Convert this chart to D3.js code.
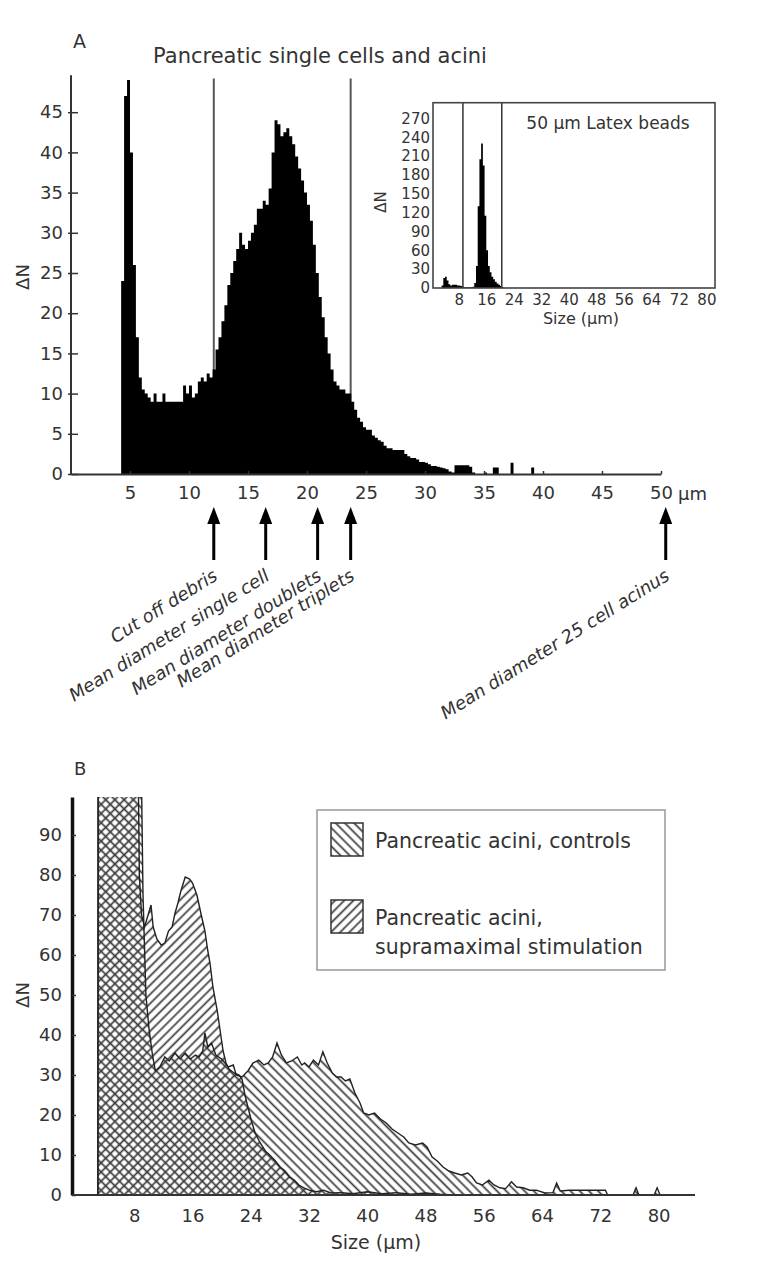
<!DOCTYPE html>
<html>
<head>
<meta charset="utf-8">
<script src="https://cdn.jsdelivr.net/npm/d3@7"></script>
<style>
body { margin: 0; background: #fff; }
svg text { font-family: "DejaVu Sans", sans-serif; fill: #333; }
</style>
</head>
<body>
<script>
"use strict";

// ---- panel A: size histogram, 0.25 um bins starting at 4.25 um
const binStartA = 4.25;
const binWidthA = 0.25;
const countsA = [
    24, 47, 49,
    40, 26, 17, 12,
    10.5, 10, 9.5, 9,
    10, 9, 9, 10,
    9, 9, 9, 9,
    9, 9, 11, 10,
    11, 9.5, 10, 11.5,
    12, 11.5, 12.5, 12,
    13, 15.5, 17, 19,
    21, 23.5, 25, 26.5,
    28, 30, 28.5, 28,
    29, 30, 31, 33,
    33, 34, 33.5, 35.5,
    40, 44, 43.5, 42,
    42.5, 43, 42, 41,
    39.5, 38, 36.5, 35,
    33.5, 31.5, 28.5, 25,
    22, 19.5, 17, 15,
    13, 11.5, 11, 10.5,
    10.5, 10, 10, 9,
    8, 7, 6.5, 5.8,
    5.5, 5.5, 4.8, 4.5,
    4.2, 4, 3.5, 3.2,
    3.2, 3, 3, 3,
    3, 2.5, 2.2, 2,
    2, 1.8, 1.5, 1.5,
    1.4, 1.2, 1, 1,
    0.9, 0.8, 0.7, 0.6,
    0.3, 0.2, 1.1, 1.1,
    1.1, 1.1, 1.1, 0.9,
    0.2, 0, 0, 0,
    0.2, 0, 0, 0.8,
    0.8, 0, 0, 0,
    0, 1.4, 0, 0,
    0, 0, 0, 0,
    0.8
];
const yTicksA = [0, 5, 10, 15, 20, 25, 30, 35, 40, 45];
const xTicksA = [5, 10, 15, 20, 25, 30, 35, 40, 45, 50];
const gateLinesA = [12.1, 23.7];
const arrowSizes = [12.1, 16.5, 20.9, 23.7, 50.4];
const arrowLabels = ["Cut off debris", "Mean diameter single cell", "Mean diameter doublets",
                     "Mean diameter triplets", "Mean diameter 25 cell acinus"];

// ---- inset: latex beads, 0.5 um bins starting at 3 um
const binStartI = 3;
const binWidthI = 0.5;
const countsI = [4, 16, 18, 12, 6, 4, 5, 5, 5, 4, 4, 3, 2, 1, 1, 1, 1, 1, 2, 8,
                 35, 130, 205, 230, 195, 115, 60, 35, 25, 18, 14, 10, 7, 5, 3, 1];
const yTicksI = [0, 30, 60, 90, 120, 150, 180, 210, 240, 270];
const xTicksI = [8, 16, 24, 32, 40, 48, 56, 64, 72, 80];
const gateLinesI = [9.2, 20.5];

// ---- panel B: controls vs supramaximal stimulation (values above 100 are off scale)
const ctrlSize = [3.0, 3.05, 8.8, 9.2, 9.6, 10.0, 10.5, 10.9, 11.5, 12.2, 12.8, 13.6, 14.3, 15.0, 15.7,
    16.4, 16.9, 17.4, 17.7, 18.1, 18.6, 19.2, 20.0, 20.9, 21.6, 22.0, 22.8, 23.6, 24.3, 25.1, 25.8,
    26.4, 27.0, 27.6, 28.2, 28.9, 29.6, 30.4, 31.0, 31.4, 32.0, 32.6, 33.3, 33.9, 34.5, 35.2, 35.8,
    36.4, 37.0, 37.6, 38.3, 39.0, 39.5, 40.2, 41.0, 41.8, 42.6, 43.4, 44.2, 45.0, 45.7, 46.6, 47.6,
    48.2, 48.9, 49.6, 50.4, 51.2, 52.0, 52.9, 53.8, 54.4, 55.0, 55.8, 56.7, 57.4, 58.2, 59.0, 59.8,
    60.5, 61.4, 62.3, 63.2, 64.4, 65.5, 66.0, 66.5, 67.7, 70.0, 72.7, 73.0, 76.5, 76.9, 77.3, 79.4,
    79.8, 80.2];
const ctrlCount = [0, 130, 130, 75, 50, 42, 35, 31, 32, 34.5, 33.5, 35.5, 34, 35.5, 34,
    35, 34.5, 36, 40.5, 37, 38, 35, 34, 32, 32.5, 30, 29.5, 31, 33, 33.7, 32.5,
    33, 34.5, 38, 35, 33, 33.5, 34.5, 32.5, 33, 32, 33.7, 32.5, 35.8, 33, 30.5, 29.5,
    29.5, 28.5, 29, 25.5, 23, 20.5, 20, 20.5, 19, 18, 16.5, 15.5, 14.5, 13, 12.5, 13,
    12, 9.5, 8.5, 7, 6, 5.5, 5, 5.5, 4.5, 3, 2.5, 3.7, 2.5, 1.8, 1.6, 3.3,
    2, 1.8, 1.2, 1.2, 0.5, 0.6, 3, 1, 1.2, 1.2, 1.2, 0, 0, 1.8, 0, 0,
    1.8, 0];
const stimSize = [3.0, 3.05, 8.4, 8.7, 9.0, 9.4, 9.9, 10.3, 10.6, 11.1, 11.7, 12.2, 12.7, 13.2, 13.6,
    14.0, 14.4, 15.0, 15.6, 16.0, 16.6, 17.2, 17.7, 18.1, 18.4, 18.8, 19.4, 19.8, 20.2, 20.6, 21.0,
    21.7, 22.4, 22.8, 23.2, 23.6, 24.1, 24.6, 25.3, 26.0, 26.6, 27.3, 28.0, 28.7, 29.3, 30.0, 30.6,
    31.3, 32.0, 33.0, 34.0, 35.0, 36.5, 38.0, 40.0, 42.0, 44.0, 46.0, 48.0, 50.0, 52.0];
const stimCount = [0, 130, 130, 80, 70, 67, 70, 72.5, 67, 64, 62.5, 63, 66, 67, 70.5,
    73, 76, 79.5, 79, 78, 75, 70, 66, 61, 58, 52, 46, 41, 36, 33, 31.5,
    30.5, 30, 29, 25, 22, 18.5, 15.5, 13, 11, 10, 8.7, 7, 6, 4.5, 3.7, 2.5,
    1.8, 1.2, 0.8, 1.2, 0.5, 0.6, 0.3, 0.8, 0.3, 0.6, 0.2, 0.5, 0.2, 0];
const yTicksB = [0, 10, 20, 30, 40, 50, 60, 70, 80, 90];
const xTicksB = [8, 16, 24, 32, 40, 48, 56, 64, 72, 80];
const legendLines = [["Pancreatic acini, controls"], ["Pancreatic acini,", "supramaximal stimulation"]];

window.addEventListener("load", init);

function histPoints(start, width, counts) {
    const pts = counts.map((c, i) => [start + i * width, c]);
    pts.push([start + counts.length * width, 0]);
    return pts;
}

function styleAxis(g, size) {
    g.selectAll(".domain").attr("stroke", "#333").attr("stroke-width", 2);
    g.selectAll(".tick line").attr("stroke", "#333").attr("stroke-width", 1.5);
    g.selectAll(".tick text").attr("font-size", size).attr("fill", "#333");
}

function init() {
    const svg = d3.select("body").append("svg")
        .attr("width", 769)
        .attr("height", 1280);

    const defs = svg.append("defs");
    function hatch(id, angle) {
        const p = defs.append("pattern")
            .attr("id", id)
            .attr("patternUnits", "userSpaceOnUse")
            .attr("width", 6.5).attr("height", 6.5)
            .attr("patternTransform", "rotate(" + angle + ")");
        p.append("line")
            .attr("x1", 3.25).attr("y1", 0).attr("x2", 3.25).attr("y2", 6.5)
            .attr("stroke", "#3a3a3a").attr("stroke-width", 1.7);
    }
    hatch("hatchCtrl", -45);
    hatch("hatchStim", 45);

    // =================== panel A ===================
    const xA = d3.scaleLinear().domain([0, 50]).range([71, 661]);
    const yA = d3.scaleLinear().domain([0, 50]).range([474, 72]);

    svg.append("text").attr("x", 73).attr("y", 48).attr("font-size", 19).text("A");
    svg.append("text").attr("x", 320).attr("y", 63).attr("font-size", 21)
        .attr("text-anchor", "middle").text("Pancreatic single cells and acini");

    svg.append("text")
        .attr("transform", "translate(29," + 277 + ") rotate(-90)")
        .attr("text-anchor", "middle").attr("font-size", 18).text("ΔN");

    svg.selectAll(".gateA")
        .data(gateLinesA)
        .enter()
        .append("line")
            .attr("x1", d => xA(d)).attr("x2", d => xA(d))
            .attr("y1", yA(49.2)).attr("y2", yA(0))
            .attr("stroke", "#555").attr("stroke-width", 2);

    const areaA = d3.area()
        .x(d => xA(d[0]))
        .y0(yA(0))
        .y1(d => yA(d[1]))
        .curve(d3.curveStepAfter);
    svg.append("path")
        .datum(histPoints(binStartA, binWidthA, countsA))
        .attr("fill", "#000")
        .attr("d", areaA);

    const yAxA = svg.append("g")
        .attr("transform", "translate(" + xA(0) + ",0)")
        .call(d3.axisLeft(yA).tickValues(yTicksA).tickSizeInner(-7).tickSizeOuter(0).tickPadding(8));
    yAxA.select(".domain").attr("d", "M0," + yA(0) + "V" + yA(49.6));
    yAxA.selectAll(".tick line").attr("x1", -3);
    styleAxis(yAxA, 18);

    const xAxA = svg.append("g")
        .attr("transform", "translate(0," + yA(0) + ")")
        .call(d3.axisBottom(xA).tickValues(xTicksA).tickSizeInner(-3).tickSizeOuter(0).tickPadding(12));
    styleAxis(xAxA, 18);
    svg.append("text").attr("x", xA(50) + 17).attr("y", yA(0) + 12 + 13.5)
        .attr("font-size", 18).text("µm");

    // arrows and their labels
    const arrows = svg.selectAll(".arrow")
        .data(arrowSizes)
        .enter()
        .append("g")
            .attr("transform", d => "translate(" + xA(d) + ",0)");
    arrows.append("line")
        .attr("x1", 0).attr("x2", 0).attr("y1", 520).attr("y2", 560)
        .attr("stroke", "#000").attr("stroke-width", 3);
    arrows.append("path")
        .attr("d", "M0,507L-6.5,524L6.5,524Z")
        .attr("fill", "#000");
    arrows.append("text")
        .attr("transform", "translate(5,579) rotate(-32)")
        .attr("text-anchor", "end")
        .attr("font-size", 18)
        .attr("font-style", "italic")
        .text((d, i) => arrowLabels[i]);

    // =================== inset ===================
    const xI = d3.scaleLinear().domain([0.5, 82.5]).range([433, 715]);
    const yI = d3.scaleLinear().domain([0, 295]).range([288, 102.7]);

    svg.append("path")
        .datum(histPoints(binStartI, binWidthI, countsI))
        .attr("fill", "#000")
        .attr("d", d3.area().x(d => xI(d[0])).y0(yI(0)).y1(d => yI(d[1])).curve(d3.curveStepAfter));

    svg.selectAll(".gateI")
        .data(gateLinesI)
        .enter()
        .append("line")
            .attr("x1", d => xI(d)).attr("x2", d => xI(d))
            .attr("y1", yI.range()[1]).attr("y2", yI.range()[0])
            .attr("stroke", "#333").attr("stroke-width", 1.5);

    svg.append("rect")
        .attr("x", xI.range()[0]).attr("y", yI.range()[1])
        .attr("width", xI.range()[1] - xI.range()[0])
        .attr("height", yI.range()[0] - yI.range()[1])
        .attr("fill", "none").attr("stroke", "#444").attr("stroke-width", 1.6);

    const yAxI = svg.append("g")
        .attr("transform", "translate(" + xI.range()[0] + ",0)")
        .call(d3.axisLeft(yI).tickValues(yTicksI).tickSize(0).tickPadding(3));
    yAxI.select(".domain").remove();
    styleAxis(yAxI, 15);

    const xAxI = svg.append("g")
        .attr("transform", "translate(0," + yI(0) + ")")
        .call(d3.axisBottom(xI).tickValues(xTicksI).tickSize(0).tickPadding(6));
    xAxI.select(".domain").remove();
    styleAxis(xAxI, 15);

    svg.append("text").attr("x", 608).attr("y", 129).attr("font-size", 17)
        .attr("text-anchor", "middle").text("50 µm Latex beads");
    svg.append("text").attr("x", 581).attr("y", 324).attr("font-size", 16)
        .attr("text-anchor", "middle").text("Size (µm)");
    svg.append("text")
        .attr("transform", "translate(386,202) rotate(-90)")
        .attr("text-anchor", "middle").attr("font-size", 15).text("ΔN");

    // =================== panel B ===================
    const xB = d3.scaleLinear().domain([0, 85]).range([76, 695]);
    const yB = d3.scaleLinear().domain([0, 99.5]).range([1195, 797]);

    svg.append("text").attr("x", 74).attr("y", 775).attr("font-size", 18).text("B");
    svg.append("text")
        .attr("transform", "translate(29,995) rotate(-90)")
        .attr("text-anchor", "middle").attr("font-size", 18).text("ΔN");

    defs.append("clipPath").attr("id", "clipB")
        .append("rect")
            .attr("x", xB(0) - 4).attr("y", yB(99.5))
            .attr("width", xB(85) - xB(0) + 4).attr("height", yB(0) - yB(99.5));

    const ctrlPts = ctrlSize.map((s, i) => [s, ctrlCount[i]]);
    const stimPts = stimSize.map((s, i) => [s, stimCount[i]]);
    const areaB = d3.area().x(d => xB(d[0])).y0(yB(0)).y1(d => yB(d[1]));
    const lineB = d3.line().x(d => xB(d[0])).y(d => yB(d[1]));

    const plotB = svg.append("g").attr("clip-path", "url(#clipB)");
    plotB.append("path").datum(stimPts).attr("fill", "url(#hatchStim)").attr("d", areaB);
    plotB.append("path").datum(ctrlPts).attr("fill", "url(#hatchCtrl)").attr("d", areaB);
    plotB.append("path").datum(stimPts).attr("fill", "none")
        .attr("stroke", "#222").attr("stroke-width", 1.4).attr("d", lineB);
    plotB.append("path").datum(ctrlPts).attr("fill", "none")
        .attr("stroke", "#222").attr("stroke-width", 1.4).attr("d", lineB);

    const yAxB = svg.append("g")
        .attr("transform", "translate(72,0)")
        .call(d3.axisLeft(yB).tickValues(yTicksB).tickSizeInner(-4).tickSizeOuter(0).tickPadding(10));
    styleAxis(yAxB, 18);
    yAxB.select(".domain").attr("stroke", "#111").attr("stroke-width", 3.5);

    const xAxB = svg.append("g")
        .attr("transform", "translate(0," + yB(0) + ")")
        .call(d3.axisBottom(xB).tickValues(xTicksB).tickSize(0).tickPadding(14));
    xAxB.select(".domain").attr("d", "M72,0H" + xB(85));
    styleAxis(xAxB, 18);

    svg.append("text").attr("x", 376).attr("y", 1249).attr("font-size", 19)
        .attr("text-anchor", "middle").text("Size (µm)");

    // legend
    const legend = svg.append("g");
    legend.append("rect")
        .attr("x", 317).attr("y", 810).attr("width", 348).attr("height", 160)
        .attr("fill", "#fff").attr("stroke", "#999").attr("stroke-width", 1.5);
    const legendItems = legend.selectAll(".item")
        .data(["hatchCtrl", "hatchStim"])
        .enter()
        .append("g")
            .attr("transform", (d, i) => "translate(331," + (823 + i * 77) + ")");
    legendItems.append("rect")
        .attr("width", 32).attr("height", 33)
        .attr("fill", d => "url(#" + d + ")")
        .attr("stroke", "#333").attr("stroke-width", 1.5);
    legendItems.append("text")
        .attr("x", 44).attr("y", 25)
        .attr("font-size", 20.5)
        .selectAll("tspan")
        .data((d, i) => legendLines[i])
        .enter()
        .append("tspan")
            .attr("x", 44)
            .attr("dy", (d, j) => j === 0 ? 0 : 29)
            .text(d => d);
}
</script>
</body>
</html>
